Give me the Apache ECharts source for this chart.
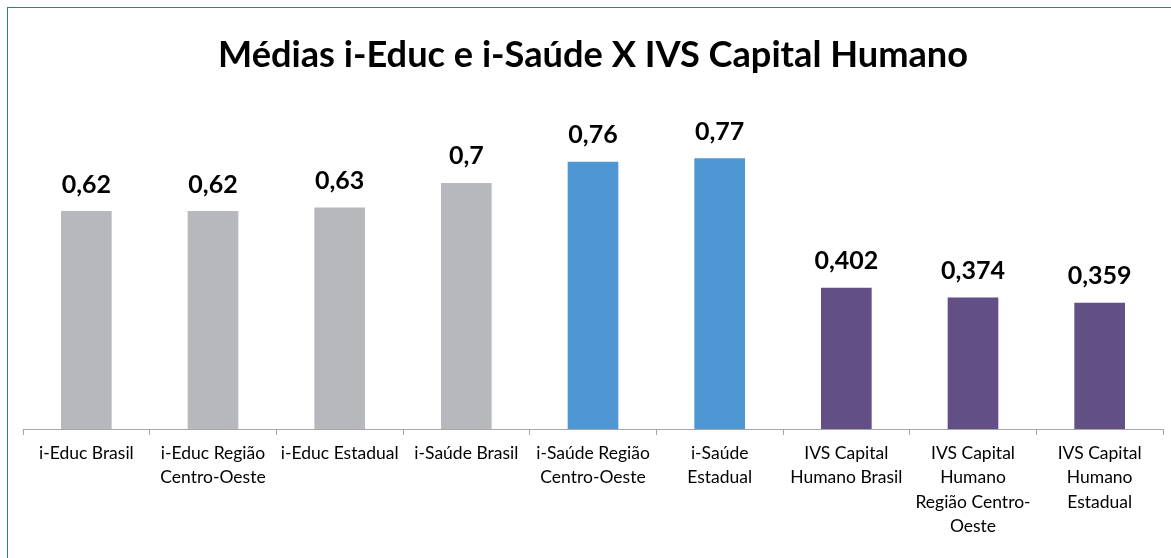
<!DOCTYPE html>
<html>
<head>
<meta charset="utf-8">
<script src="https://cdn.jsdelivr.net/npm/echarts@6/dist/echarts.min.js"></script>
<style>
html,body{margin:0;padding:0;background:#fff;}
#frame{position:absolute;left:7px;top:7px;width:1200px;height:600px;border:1px solid #2a8a6e;border-right:none;border-bottom:none;}
#chart{position:absolute;left:0;top:0;width:1171px;height:558px;}
</style>
</head>
<body>
<div id="frame"></div>
<div id="chart"></div>
<script>
const categories = [
  'i-Educ Brasil',
  'i-Educ Região\nCentro-Oeste',
  'i-Educ Estadual',
  'i-Saúde Brasil',
  'i-Saúde Região\nCentro-Oeste',
  'i-Saúde\nEstadual',
  'IVS Capital\nHumano Brasil',
  'IVS Capital\nHumano\nRegião Centro-\nOeste',
  'IVS Capital\nHumano\nEstadual'
];
const values = [0.62, 0.62, 0.63, 0.7, 0.76, 0.77, 0.402, 0.374, 0.359];
const valueLabels = ['0,62', '0,62', '0,63', '0,7', '0,76', '0,77', '0,402', '0,374', '0,359'];
const barColors = ['#b7b8bc', '#b7b8bc', '#b7b8bc', '#b7b8bc', '#4f97d3', '#4f97d3', '#614f86', '#614f86', '#614f86'];
const titleText = 'Médias i-Educ e i-Saúde X IVS Capital Humano';

const chart = echarts.init(document.getElementById('chart'), null, {renderer: 'canvas'});
chart.setOption({
  animation: false,
  backgroundColor: 'transparent',
  title: {
    text: titleText,
    left: 213,
    top: 32,
    textStyle: {fontFamily: 'Lato', fontWeight: 'bold', fontSize: 36.2, color: '#000'}
  },
  grid: {left: 23, right: 8, top: 77.4, bottom: 129, containLabel: false},
  xAxis: {
    type: 'category',
    data: categories,
    axisLine: {lineStyle: {color: '#a6a6a6', width: 1}},
    axisTick: {show: true, length: 6, lineStyle: {color: '#a6a6a6'}},
    axisLabel: {
      interval: 0, margin: 12, color: '#000', fontFamily: 'Lato', fontSize: 17.5, lineHeight: 24.5
    }
  },
  yAxis: {type: 'value', min: 0, max: 1, show: false, splitLine: {show: false}},
  series: [{
    type: 'bar',
    barWidth: '40%',
    data: values.map((v, i) => ({value: v, itemStyle: {color: barColors[i]}})),
    label: {
      show: true, position: 'top', distance: 14,
      formatter: p => valueLabels[p.dataIndex],
      fontFamily: 'Lato', fontWeight: 'bold', fontSize: 25, color: '#000'
    }
  }]
});
</script>
</body>
</html>
